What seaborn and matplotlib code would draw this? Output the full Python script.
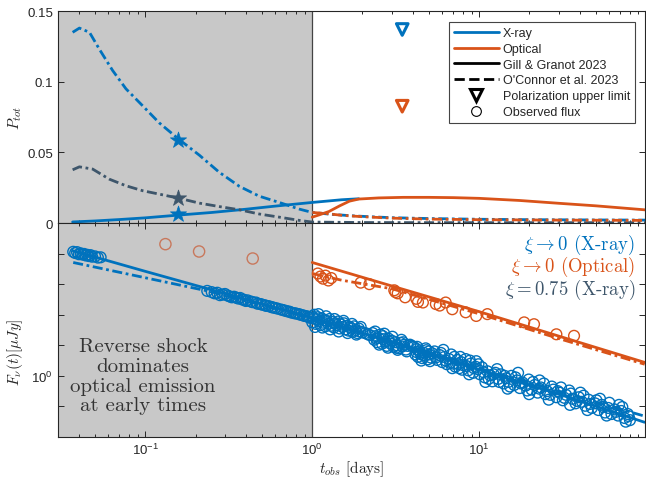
import numpy as np
import pandas as pd
import matplotlib
matplotlib.use("Agg")
import matplotlib.pyplot as plt
import seaborn as sns
from matplotlib.lines import Line2D
from matplotlib.ticker import FixedLocator, FixedFormatter, LogLocator, NullFormatter, NullLocator

# ---------------- data ----------------
# Top panel: polarization P_tot vs t_obs [days]
pol_xray_oc_t = [0.0367, 0.0403, 0.0463, 0.0531, 0.0637, 0.0766, 0.0964, 0.121, 0.160, 0.211, 0.277,
                 0.366, 0.482, 0.634, 0.836, 1.0, 1.3, 1.7, 2.2, 3.0, 5.0, 10.0, 20.0, 50.0, 100.0]
pol_xray_oc_p = [0.135, 0.138, 0.135, 0.123, 0.108, 0.095, 0.083, 0.071, 0.059, 0.048, 0.036,
                 0.026, 0.019, 0.0146, 0.0099, 0.0075, 0.0062, 0.0052, 0.0045, 0.0038, 0.0032,
                 0.0027, 0.0024, 0.0022, 0.0021]

pol_xi075_t = [0.0367, 0.0403, 0.0484, 0.0608, 0.0766, 0.0964, 0.121, 0.160, 0.211, 0.277, 0.366,
               0.482, 0.634, 0.836, 1.0, 2.0, 5.0, 20.0, 100.0]
pol_xi075_p = [0.0377, 0.0398, 0.0382, 0.0311, 0.0264, 0.0229, 0.0205, 0.0175, 0.0141, 0.0117,
               0.0094, 0.0064, 0.0042, 0.0019, 0.0007, 0.0004, 0.0003, 0.0003, 0.0003]

pol_xray_gg_t = [0.0367, 0.05, 0.07, 0.1, 0.16, 0.25, 0.4, 0.6, 1.0, 1.5, 1.9]
pol_xray_gg_p = [0.0008, 0.0015, 0.0025, 0.0037, 0.0057, 0.0075, 0.0098, 0.0120, 0.0146, 0.0165, 0.0172]

pol_opt_gg_t = [1.0, 1.1, 1.26, 1.46, 1.67, 1.9, 2.5, 3.5, 5.0, 7.0, 10.0, 17.4, 30.0, 50.0, 100.0]
pol_opt_gg_p = [0.0042, 0.0058, 0.0082, 0.0122, 0.0155, 0.0170, 0.0178, 0.0182, 0.0182, 0.0180,
                0.0175, 0.0160, 0.0140, 0.0122, 0.0093]

pol_opt_oc_t = [1.0, 1.2, 1.5, 2.0, 3.0, 5.0, 10.0, 30.0, 100.0]
pol_opt_oc_p = [0.0075, 0.0068, 0.0055, 0.0045, 0.0035, 0.0028, 0.0024, 0.0021, 0.0019]

star_t = [0.158, 0.158, 0.158]
star_p = [0.059, 0.0175, 0.0062]

ulim_t = [3.46, 3.46]
ulim_p = [0.137, 0.0827]

# Bottom panel: flux density F_nu [muJy] (log10 values)
flux_xray_gg_t = [0.037, 0.1, 0.24, 1.0, 3.0, 10.0, 30.0, 98.0]
flux_xray_gg_log = [4.09, 3.42, 2.84, 1.90, 1.10, 0.20, -0.60, -1.52]
flux_xray_oc_t = [0.037, 0.1, 0.24, 1.0, 3.0, 10.0, 30.0, 98.0]
flux_xray_oc_log = [3.71, 3.21, 2.77, 1.88, 1.12, 0.25, -0.50, -1.32]
flux_opt_gg_t = [1.0, 3.0, 10.0, 30.0, 98.0]
flux_opt_gg_log = [3.71, 2.94, 2.10, 1.30, 0.44]
flux_opt_oc_t = [1.0, 1.5, 3.0, 10.0, 30.0, 98.0]
flux_opt_oc_log = [3.35, 3.13, 2.85, 2.03, 1.22, 0.38]

xray_obs_t = [0.037, 0.038, 0.039, 0.040, 0.041, 0.042, 0.043, 0.044, 0.045, 0.046, 0.047, 0.048, 0.050, 0.052, 0.054,
              0.235, 0.25, 0.27, 0.29, 0.30, 0.32, 0.34, 0.36, 0.37, 0.39, 0.41, 0.43, 0.46, 0.49, 0.52, 0.55,
              0.58, 0.62, 0.65, 0.69, 0.73, 0.78, 0.83, 0.88, 0.93, 0.97,
              0.26, 0.28, 0.31, 0.33, 0.35, 0.38, 0.40, 0.44, 0.47, 0.50, 0.53, 0.57, 0.60, 0.67, 0.71, 0.75,
              0.80, 0.85, 0.90, 0.95,
              1.00, 1.00, 1.02, 1.03, 1.05, 1.06, 1.08, 1.10, 1.12, 1.14, 1.16, 1.18, 1.20, 1.22, 1.25, 1.27,
              1.30, 1.32, 1.35, 1.38, 1.40, 1.43, 1.46, 1.49, 1.52, 1.55, 1.58, 1.62, 1.65, 1.68, 1.72, 1.75,
              1.78, 1.82, 1.86, 1.90, 1.93,
              1.04, 1.09, 1.15, 1.21, 1.28, 1.36, 1.44, 1.54, 1.63, 1.73, 1.84, 1.95,
              2.00, 2.08, 2.15, 2.22,
              2.30, 2.35, 2.40, 2.45, 2.50, 2.56, 2.62, 2.68, 2.74, 2.80, 2.86, 2.93, 3.00, 3.07, 3.14, 3.22,
              3.30, 3.38, 3.46, 3.55, 3.64, 3.73, 3.85, 3.95, 4.05,
              2.38, 2.52, 2.70, 2.84, 3.02, 3.25, 3.42, 3.68,
              4.15, 4.22, 4.30, 4.38, 4.46, 4.55, 4.64, 4.73, 4.82, 4.92, 5.02, 5.12, 5.22,
              4.25, 4.50, 4.78, 5.07,
              5.4, 5.6, 5.8, 6.0, 6.2, 6.4, 6.6, 6.8, 7.0, 7.2, 7.4, 7.6, 7.8, 8.0, 8.3, 8.6, 8.9, 9.2, 9.5, 9.8,
              10.1, 10.4, 10.8, 11.2, 11.6, 12.0, 12.5, 13.0, 13.5, 14.0, 14.5, 15.0, 15.6, 16.2, 16.8, 17.5,
              18.2, 19.0, 19.8, 20.6, 21.5, 22.4, 23.4, 24.4, 25.5, 26.6, 27.8, 29.0, 30.3, 31.7, 33.1, 34.6,
              36.2, 37.8, 39.5, 41.3, 43.2, 45.2, 47.3, 49.5, 51.8, 54.2, 56.7, 59.3, 62.0, 64.9, 67.9, 71.0,
              74.3, 77.7, 80.0,
              5.5, 5.9, 6.3, 6.7, 7.1, 7.5, 7.9, 8.4, 8.8, 9.3, 9.9, 10.6, 11.4, 12.2, 13.2, 14.2, 15.3, 16.5,
              17.8, 19.4, 21.0, 22.9, 24.9, 27.2, 29.6, 32.4, 35.4, 38.6, 42.2, 46.1, 50.4, 55.1, 60.2, 65.8,
              72.0, 78.6,
              6.1, 6.9, 7.7, 8.7, 9.6, 10.9, 12.8, 14.8, 17.1, 19.9, 23.0, 26.1, 30.9, 35.0, 40.4, 44.5,
              52.9, 58.0, 68.8, 75.5,
              2.42, 2.65, 2.90, 3.18, 3.50, 4.20, 4.60, 5.00]
xray_obs_log = [4.06, 4.02, 4.05, 3.98, 4.01, 3.97, 3.99, 3.94, 3.96, 3.92, 3.95, 3.90, 3.91, 3.87, 3.88,
                2.78, 2.74, 2.72, 2.66, 2.68, 2.60, 2.59, 2.53, 2.55, 2.49, 2.47, 2.43, 2.40, 2.35, 2.31, 2.28,
                2.24, 2.20, 2.17, 2.13, 2.10, 2.05, 2.02, 1.98, 1.95, 1.90,
                2.70, 2.64, 2.63, 2.57, 2.56, 2.50, 2.45, 2.41, 2.36, 2.33, 2.29, 2.25, 2.22, 2.15, 2.11, 2.07,
                2.04, 2.00, 1.96, 1.92,
                1.95, 1.75, 1.88, 2.00, 1.70, 1.85, 1.92, 1.78, 1.66, 1.88, 1.74, 1.82, 1.62, 1.80, 1.70, 1.86,
                1.64, 1.76, 1.58, 1.72, 1.66, 1.78, 1.55, 1.68, 1.60, 1.72, 1.52, 1.64, 1.48, 1.60, 1.54, 1.44,
                1.62, 1.50, 1.40, 1.55, 1.45,
                1.60, 2.02, 1.58, 1.95, 1.52, 1.86, 1.45, 1.80, 1.40, 1.70, 1.35, 1.60,
                1.42, 1.40, 1.36, 1.33,
                1.40, 1.18, 1.30, 1.10, 1.24, 1.35, 1.05, 1.20, 1.12, 0.98, 1.22, 1.06, 1.15, 0.95, 1.10, 1.00,
                0.90, 1.08, 0.96, 1.02, 0.86, 0.98, 1.02, 0.98, 0.95,
                1.45, 1.02, 1.38, 0.92, 1.28, 0.85, 1.18, 0.80,
                0.70, 0.88, 0.62, 0.80, 0.72, 0.58, 0.76, 0.66, 0.84, 0.54, 0.70, 0.60, 0.74,
                0.95, 0.50, 0.90, 0.48,
                0.80, 0.52, 0.68, 0.45, 0.62, 0.38, 0.55, 0.70, 0.40, 0.30, 0.52, 0.25, 0.45, 0.35, 0.55, 0.18,
                0.40, 0.10, 0.30, 0.22,
                0.05, 0.28, -0.05, 0.15, 0.02, -0.18, 0.10, -0.10, 0.05, -0.25, -0.08, -0.20, 0.00, -0.30,
                -0.15, -0.40, -0.22, -0.32, -0.12, -0.45, -0.30, -0.55, -0.38, -0.25, -0.50, -0.62, -0.45,
                -0.70, -0.55, -0.80, -0.62, -0.48, -0.75, -0.90, -0.70, -0.85, -0.98, -0.78, -1.05, -0.90,
                -1.12, -0.95, -1.20, -1.05, -1.25, -1.10, -1.30, -1.15, -1.38, -1.25, -1.45,
                0.60, 0.75, 0.50, 0.42, 0.62, 0.38, 0.20, 0.32, 0.50, 0.25, 0.38, 0.12, -0.10, 0.05, -0.20,
                0.00, -0.35, -0.05, -0.25, -0.48, -0.20, -0.42, -0.60, -0.35, -0.50, -0.72, -0.58, -0.82,
                -0.65, -0.92, -0.80, -1.02, -0.88, -1.18, -1.02, -1.32,
                0.85, 0.25, 0.62, 0.05, 0.48, -0.20, 0.22, -0.42, 0.10, -0.60, -0.15, -0.78, -0.38, -0.95,
                -0.55, -1.12, -0.75, -1.30, -0.95, -1.50,
                1.22, 1.30, 1.12, 0.92, 1.10, 0.78, 0.68, 0.80]

opt_early_t = [0.132, 0.21, 0.44]
opt_early_log = [4.31, 4.07, 3.84]
opt_obs_t = [1.08, 1.12, 1.16, 1.20, 1.25, 1.30, 1.95, 2.2, 3.1, 3.15, 3.25, 3.6, 4.2, 4.3, 4.6, 5.5,
             5.8, 6.3, 6.9, 8.3, 9.6, 11.2, 18.6, 21.3, 29.0, 37.0]
opt_obs_log = [3.35, 3.25, 3.18, 3.28, 3.12, 3.20, 3.05, 3.00, 2.80, 2.74, 2.70, 2.57, 2.52, 2.42, 2.40,
               2.35, 2.30, 2.40, 2.18, 2.08, 1.96, 2.02, 1.75, 1.69, 1.36, 1.31]

xi_labels = [r'$\xi \rightarrow 0$ (X-ray)', r'$\xi \rightarrow 0$ (Optical)', r'$\xi = 0.75$ (X-ray)']
legend_labels = ['X-ray', 'Optical', 'Gill & Granot 2023', "O'Connor et al. 2023",
                 'Polarization upper limit', 'Observed flux']
annot_text = "Reverse shock\ndominates\noptical emission\nat early times"

# ---------------- style ----------------
BLUE = '#0072BD'
ORANGE = '#D95319'
SLATE = '#3E566B'
GRAY_BG = '#C8C8C8'
AX_COL = '#262626'
DASHDOT = (0, (3.6, 1.3, 1.0, 1.3))

sns.set_theme(style='ticks')
plt.rcParams['font.family'] = ['Liberation Sans', 'DejaVu Sans']
plt.rcParams['mathtext.fontset'] = 'cm'
plt.rcParams['axes.edgecolor'] = AX_COL
plt.rcParams['xtick.color'] = AX_COL
plt.rcParams['ytick.color'] = AX_COL
plt.rcParams['axes.linewidth'] = 0.8

fig = plt.figure(figsize=(6.46, 4.85), dpi=100)
ax1 = fig.add_axes([0.0898, 0.538, 0.9087, 0.437])
ax2 = fig.add_axes([0.0898, 0.097, 0.9087, 0.441])

XLIM = (0.03, 98.5)

def line(ax, t, y, color, ls, lw=2.0, z=3):
    df = pd.DataFrame({'t': t, 'y': y})
    sns.lineplot(data=df, x='t', y='y', ax=ax, color=color, linestyle=ls, lw=lw,
                 estimator=None, sort=False, zorder=z)

for ax in (ax1, ax2):
    ax.axvspan(XLIM[0], 1.0, color=GRAY_BG, zorder=0, lw=0)
    ax.axvline(1.0, color='#444444', lw=0.9, zorder=1)

# ---- top panel ----
line(ax1, pol_xray_gg_t, pol_xray_gg_p, BLUE, '-')
line(ax1, pol_xray_oc_t, pol_xray_oc_p, BLUE, DASHDOT)
line(ax1, pol_xi075_t, pol_xi075_p, SLATE, DASHDOT)
line(ax1, pol_opt_oc_t, pol_opt_oc_p, ORANGE, DASHDOT)
line(ax1, pol_opt_gg_t, pol_opt_gg_p, ORANGE, '-')

sdf = pd.DataFrame({'t': star_t, 'p': star_p, 'c': [BLUE, SLATE, BLUE]})
for _, r in sdf.iterrows():
    sns.scatterplot(x=[r.t], y=[r.p], ax=ax1, marker='*', s=150, color=r.c, edgecolor=r.c,
                    linewidth=0.5, zorder=5)
for tt, pp, c in zip(ulim_t, ulim_p, [BLUE, ORANGE]):
    sns.scatterplot(x=[tt], y=[pp], ax=ax1, marker='v', s=70, color='none', edgecolor=c,
                    linewidth=2.2, zorder=5)

ax1.set_xscale('log')
ax1.set_xlim(*XLIM)
ax1.set_ylim(0, 0.15)
ax1.yaxis.set_major_locator(FixedLocator([0, 0.05, 0.1, 0.15]))
ax1.yaxis.set_major_formatter(FixedFormatter(['0', '0.05', '0.1', '0.15']))
ax1.xaxis.set_major_locator(LogLocator(base=10, numticks=10))
ax1.xaxis.set_minor_locator(LogLocator(base=10, subs=np.arange(2, 10), numticks=20))
ax1.xaxis.set_major_formatter(NullFormatter())
ax1.xaxis.set_minor_formatter(NullFormatter())
ax1.set_xlabel('')
ax1.set_ylabel('')

handles = [Line2D([], [], color=BLUE, lw=2),
           Line2D([], [], color=ORANGE, lw=2),
           Line2D([], [], color='black', lw=2),
           Line2D([], [], color='black', lw=2, ls='--'),
           Line2D([], [], ls='none', marker='v', mfc='none', mec='black', mew=2.2, ms=8),
           Line2D([], [], ls='none', marker='o', mfc='none', mec='black', mew=0.8, ms=7)]
leg = ax1.legend(handles, legend_labels, loc='upper right', bbox_to_anchor=(0.983, 0.948),
                 borderaxespad=0, fontsize=9, handlelength=3.6, handletextpad=0.3,
                 labelspacing=0.3, borderpad=0.4, fancybox=False, framealpha=1)
leg.get_frame().set_edgecolor('#444444')
leg.get_frame().set_linewidth(0.8)

# ---- bottom panel ----
def scat(ax, t, logv, edge, lw=1.0, s=60, z=2):
    df = pd.DataFrame({'t': t, 'f': np.power(10.0, logv)})
    sns.scatterplot(data=df, x='t', y='f', ax=ax, marker='o', s=s, color='none',
                    edgecolor=edge, linewidth=lw, zorder=z)

scat(ax2, xray_obs_t, xray_obs_log, BLUE)
scat(ax2, opt_obs_t, opt_obs_log, ORANGE)
scat(ax2, opt_early_t, opt_early_log, '#C8785C', lw=1.0, s=65)

line(ax2, flux_xray_gg_t, np.power(10.0, flux_xray_gg_log), BLUE, '-', z=4)
line(ax2, flux_xray_oc_t, np.power(10.0, flux_xray_oc_log), BLUE, DASHDOT, z=4)
line(ax2, flux_opt_gg_t, np.power(10.0, flux_opt_gg_log), ORANGE, '-', z=4)
line(ax2, flux_opt_oc_t, np.power(10.0, flux_opt_oc_log), ORANGE, DASHDOT, z=4)

ax2.set_xscale('log')
ax2.set_yscale('log')
ax2.set_xlim(*XLIM)
ax2.set_ylim(1e-2, 1e5)
ax2.yaxis.set_major_locator(FixedLocator([1e-1, 1e0, 1e1, 1e2, 1e3, 1e4]))
ax2.yaxis.set_major_formatter(FixedFormatter(['', r'$\mathdefault{10^{0}}$', '', '', '', '']))
ax2.yaxis.set_minor_locator(NullLocator())
ax2.xaxis.set_major_locator(LogLocator(base=10, numticks=10))
ax2.xaxis.set_minor_locator(LogLocator(base=10, subs=np.arange(2, 10), numticks=20))
ax2.xaxis.set_minor_formatter(NullFormatter())
ax2.set_xlabel('')
ax2.set_ylabel('')

for ax in (ax1, ax2):
    ax.tick_params(which='both', direction='in', top=True, right=True, labelsize=9.5,
                   width=0.7, colors=AX_COL)
    ax.tick_params(which='major', length=4)
    ax.tick_params(which='minor', length=2.2)
    for sp in ax.spines.values():
        sp.set_visible(True)
        sp.set_zorder(6)

xi_colors = [BLUE, ORANGE, SLATE]
xi_y = [0.902, 0.799, 0.692]
for lab, c, yy in zip(xi_labels, xi_colors, xi_y):
    ax2.text(0.983, yy, lab, transform=ax2.transAxes, ha='right', va='center', color=c,
             fontsize=13.5, fontfamily='cmr10')

ax2.text(0.097, 1.0, annot_text, ha='center', va='center', multialignment='center',
         fontsize=15, fontfamily='cmr10', color='#333333', linespacing=1.12, zorder=7)

fig.text(15 / 646, 1 - 118 / 485, r'$P_{tot}$', rotation=90, ha='center', va='center',
         fontsize=11, color=AX_COL)
fig.text(15 / 646, 1 - 352 / 485, r'$F_\nu(t)[\mu Jy]$', rotation=90, ha='center', va='center',
         fontsize=11, color=AX_COL)
fig.text(352 / 646, 1 - 469 / 485, r'$t_{obs}$ [days]', ha='center', va='center',
         fontsize=11, color=AX_COL, fontfamily='cmr10')

fig.savefig('out.png', dpi=100)
